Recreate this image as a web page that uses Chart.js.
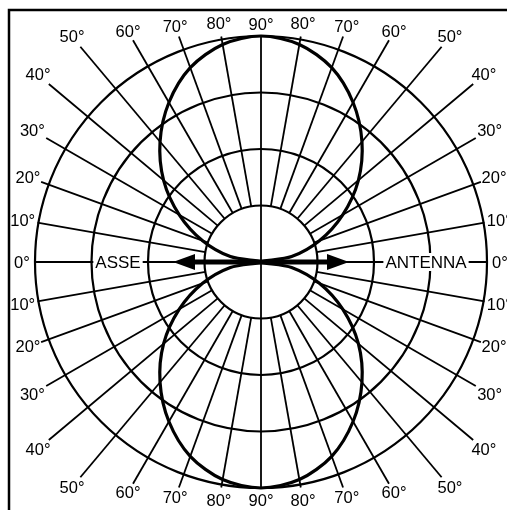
<!DOCTYPE html>
<html>
<head>
<meta charset="utf-8">
<script src="https://cdn.jsdelivr.net/npm/chart.js@4/dist/chart.umd.min.js"></script>
<style>
  html, body { margin: 0; padding: 0; background: #fff; }
  #wrap { width: 507px; height: 510px; position: relative; }
</style>
</head>
<body>
<div id="wrap"><canvas id="polar"></canvas></div>
<script>
'use strict';

// Elevation of each spoke, every 10 degrees, clockwise from the right-hand axis
var elevations = [0, 10, 20, 30, 40, 50, 60, 70, 80, 90, 80, 70, 60, 50, 40, 30, 20, 10,
                  0, 10, 20, 30, 40, 50, 60, 70, 80, 90, 80, 70, 60, 50, 40, 30, 20, 10];
var angleLabels = elevations.map(function (e) { return e + '°'; });

// Relative field (outer ring = 4)
var lobe = [0, 0.55, 1.1, 1.67, 2.25, 2.78, 3.26, 3.66, 3.91, 4,
            3.91, 3.66, 3.26, 2.78, 2.25, 1.67, 1.1, 0.55,
            0, 0.55, 1.1, 1.67, 2.25, 2.78, 3.26, 3.66, 3.91, 4,
            3.91, 3.66, 3.26, 2.78, 2.25, 1.67, 1.1, 0.55];

var axisWords = ['ASSE', 'ANTENNA'];

// Layout (px from centre) for spoke ends and their labels, by elevation / 10
var spokeEnd = [226, 227, 234, 248, 277, 281, 256, 240, 229, 227];
var labelDist = [239, 242, 248, 264, 291, 294, 266, 251, 242, 238];

var FONT = '"Liberation Sans", Arial, sans-serif';

function line(ctx, a, b) {
	ctx.beginPath();
	ctx.moveTo(a.x, a.y);
	ctx.lineTo(b.x, b.y);
	ctx.stroke();
}

var polarDecor = {
	id: 'polarDecor',
	beforeDatasetsDraw: function (chart) {
		var ctx = chart.ctx;
		var r = chart.scales.r;
		var inner = r.getDistanceFromCenterForValue(1);
		var outer = r.getDistanceFromCenterForValue(4);
		ctx.save();
		ctx.strokeStyle = '#000';
		ctx.fillStyle = '#000';

		// frame
		ctx.lineWidth = 2.5;
		ctx.strokeRect(9, 10, 600, 600);

		// spokes from the inner ring outwards
		ctx.lineWidth = 1.8;
		elevations.forEach(function (e, i) {
			if (e === 0 || e === 90) return;
			line(ctx, r.getPointPosition(i, inner), r.getPointPosition(i, spokeEnd[e / 10]));
		});
		// vertical 90° line through the centre
		line(ctx, r.getPointPosition(27, spokeEnd[9]), r.getPointPosition(9, spokeEnd[9]));
		// antenna axis
		line(ctx, r.getPointPosition(18, outer), r.getPointPosition(0, outer));

		// degree labels
		ctx.font = '16.5px ' + FONT;
		ctx.textAlign = 'center';
		ctx.textBaseline = 'middle';
		chart.data.labels.forEach(function (lab, i) {
			var p = r.getPointPosition(i, labelDist[elevations[i] / 10]);
			ctx.fillText(lab, p.x, p.y + 1);
		});

		// axis words on a white patch
		ctx.font = '17px ' + FONT;
		[[18, 143, axisWords[0]], [0, 165, axisWords[1]]].forEach(function (w) {
			var p = r.getPointPosition(w[0], w[1]);
			var tw = ctx.measureText(w[2]).width;
			ctx.fillStyle = '#fff';
			ctx.fillRect(p.x - tw / 2 - 2, p.y - 9, tw + 4, 18);
			ctx.fillStyle = '#000';
			ctx.fillText(w[2], p.x, p.y + 1);
		});
		ctx.restore();
	},
	afterDatasetsDraw: function (chart) {
		var ctx = chart.ctx;
		var r = chart.scales.r;
		var cx = r.xCenter, cy = r.yCenter;
		var tip = 88, head = 22, half = 8;
		ctx.save();
		ctx.strokeStyle = '#000';
		ctx.fillStyle = '#000';
		ctx.lineWidth = 5;
		ctx.beginPath();
		ctx.moveTo(cx - tip + head, cy);
		ctx.lineTo(cx + tip - head, cy);
		ctx.stroke();
		[-1, 1].forEach(function (s) {
			ctx.beginPath();
			ctx.moveTo(cx + s * tip, cy);
			ctx.lineTo(cx + s * (tip - head), cy - half);
			ctx.lineTo(cx + s * (tip - head), cy + half);
			ctx.closePath();
			ctx.fill();
		});
		ctx.restore();
	}
};

var ctx = document.getElementById('polar');

var polarChart = new Chart(ctx, {
	type: 'radar',
	data: {
		labels: angleLabels,
		datasets: [{
			data: lobe,
			borderColor: '#000',
			borderWidth: 3.2,
			fill: false,
			pointRadius: 0,
			tension: 0.3,
			clip: false
		}]
	},
	options: {
		responsive: true,
		maintainAspectRatio: false,
		animation: false,
		layout: { padding: { left: 35, right: 20, top: 36, bottom: 22 } },
		plugins: {
			legend: { display: false },
			tooltip: { enabled: false }
		},
		scales: {
			r: {
				min: 0,
				max: 4,
				startAngle: 90,
				ticks: { display: false, stepSize: 1 },
				grid: { circular: true, color: '#000', lineWidth: 2.2 },
				angleLines: { display: false },
				pointLabels: { display: false }
			}
		}
	},
	plugins: [polarDecor]
});
</script>
</body>
</html>
